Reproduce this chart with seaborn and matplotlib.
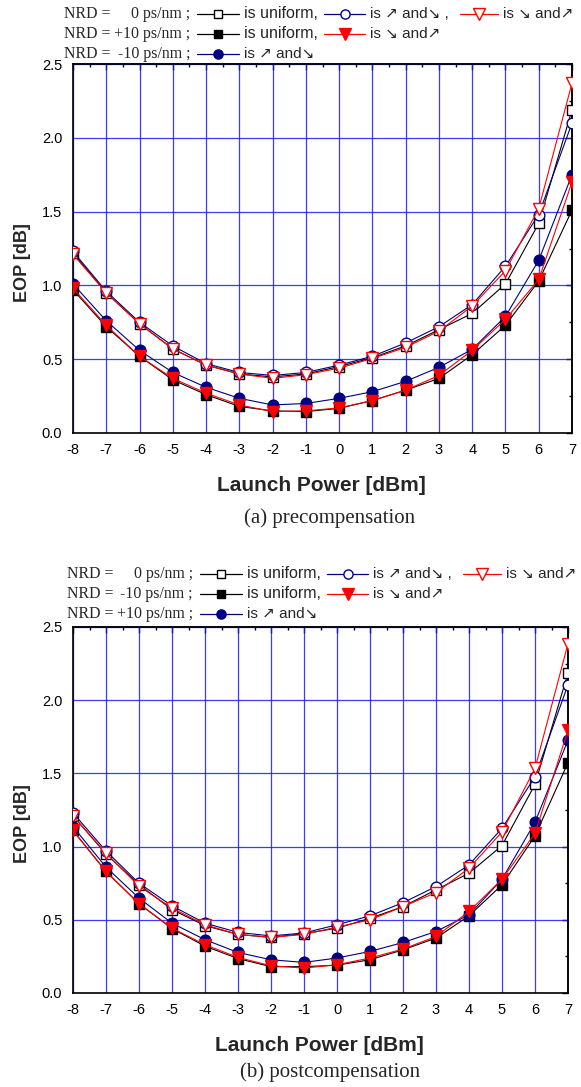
import matplotlib
matplotlib.use("Agg")
import matplotlib.pyplot as plt
import seaborn as sns
from matplotlib.lines import Line2D
from matplotlib.ticker import MultipleLocator, FormatStrFormatter

sns.set_style("white")
plt.rcParams['font.family'] = ['Liberation Sans', 'DejaVu Sans']
plt.rcParams['axes.unicode_minus'] = False

# ---------------- data ----------------
launch_power = [-8, -7, -6, -5, -4, -3, -2, -1, 0, 1, 2, 3, 4, 5, 6, 7]

# (a) precompensation
pre_nrd0_uniform = [1.22, 0.95, 0.74, 0.57, 0.46, 0.40, 0.38, 0.40, 0.45, 0.51, 0.59, 0.70, 0.81, 1.01, 1.42, 2.19]
pre_nrd0_updown = [1.23, 0.96, 0.75, 0.59, 0.47, 0.41, 0.39, 0.41, 0.46, 0.52, 0.61, 0.72, 0.87, 1.13, 1.48, 2.10]
pre_nrd0_downup = [1.21, 0.95, 0.74, 0.57, 0.46, 0.40, 0.37, 0.395, 0.44, 0.505, 0.58, 0.69, 0.86, 1.10, 1.52, 2.37]
pre_nrdp10_uniform = [0.97, 0.72, 0.52, 0.36, 0.26, 0.18, 0.15, 0.145, 0.167, 0.22, 0.29, 0.37, 0.53, 0.73, 1.03, 1.51]
pre_nrdp10_downup = [0.98, 0.73, 0.52, 0.37, 0.27, 0.19, 0.145, 0.15, 0.17, 0.22, 0.29, 0.39, 0.56, 0.77, 1.04, 1.70]
pre_nrdm10_updown = [1.01, 0.76, 0.56, 0.41, 0.31, 0.235, 0.19, 0.20, 0.235, 0.28, 0.35, 0.445, 0.567, 0.79, 1.17, 1.75]

# (b) postcompensation
post_nrd0_uniform = [1.21, 0.95, 0.74, 0.57, 0.46, 0.40, 0.38, 0.405, 0.443, 0.51, 0.59, 0.705, 0.818, 1.007, 1.425, 2.186]
post_nrd0_updown = [1.23, 0.97, 0.75, 0.595, 0.477, 0.414, 0.39, 0.41, 0.466, 0.527, 0.617, 0.727, 0.875, 1.125, 1.477, 2.106]
post_nrd0_downup = [1.21, 0.955, 0.73, 0.58, 0.466, 0.40, 0.38, 0.40, 0.45, 0.50, 0.59, 0.686, 0.852, 1.10, 1.534, 2.386]
post_nrdm10_uniform = [1.11, 0.83, 0.61, 0.44, 0.32, 0.235, 0.18, 0.18, 0.19, 0.227, 0.295, 0.375, 0.527, 0.739, 1.073, 1.573]
post_nrdm10_downup = [1.11, 0.83, 0.61, 0.443, 0.33, 0.243, 0.186, 0.17, 0.193, 0.239, 0.30, 0.386, 0.557, 0.777, 1.09, 1.795]
post_nrdp10_updown = [1.136, 0.86, 0.648, 0.477, 0.364, 0.277, 0.227, 0.209, 0.239, 0.284, 0.345, 0.42, 0.534, 0.777, 1.166, 1.727]

x_label = "Launch Power [dBm]"
y_label = "EOP [dB]"
captions = ["(a) precompensation", "(b) postcompensation"]

# ---------------- styles ----------------
NAVY = "#000080"
STY = {
    "sq_open": dict(color="black", marker="s", ms=6.8, face="white"),
    "ci_open": dict(color=NAVY, marker="o", ms=7.7, face="white"),
    "tr_open": dict(color="red", marker="v", ms=8.6, face="white"),
    "sq_fill": dict(color="black", marker="s", ms=6.8, face="black"),
    "ci_fill": dict(color=NAVY, marker="o", ms=7.7, face=NAVY),
    "tr_fill": dict(color="red", marker="v", ms=8.6, face="red"),
}
LEG_MS = {"s": 5.8, "o": 6.6, "v": 8.0}

W, H = 581, 1087
fig = plt.figure(figsize=(W / 100, H / 100), dpi=100)


def add_axes_px(l, t, r, b):
    return fig.add_axes([l / W, 1 - b / H, (r - l) / W, (b - t) / H])


def draw_panel(ax, series):
    for vals, key in series:
        s = STY[key]
        sns.lineplot(x=launch_power, y=vals, ax=ax, color=s["color"], marker=s["marker"],
                     markersize=s["ms"], markerfacecolor=s["face"], markeredgecolor=s["color"],
                     markeredgewidth=1.0, linewidth=0.8, legend=False, zorder=3)
    ax.set_xlim(-8, 7)
    ax.set_ylim(0, 2.5)
    ax.set_xlabel("")
    ax.set_ylabel("")
    ax.xaxis.set_major_locator(MultipleLocator(1))
    ax.xaxis.set_minor_locator(MultipleLocator(0.5))
    ax.yaxis.set_major_locator(MultipleLocator(0.5))
    ax.yaxis.set_minor_locator(MultipleLocator(0.25))
    ax.yaxis.set_major_formatter(FormatStrFormatter('%.1f'))
    ax.set_axisbelow(True)
    ax.grid(True, which='major', color='#1a1aff', linewidth=0.9, alpha=0.85)
    ax.tick_params(which='both', direction='out', top=False, right=False,
                   color='black', width=1.0, labelsize=10.5, labelcolor='black')
    ax.tick_params(which='major', length=4.3)
    ax.tick_params(which='minor', length=2.5)
    ax.tick_params(axis='x', pad=3.2)
    ax.tick_params(axis='y', pad=3.4)
    for sp in ax.spines.values():
        sp.set_visible(True)
        sp.set_color('black')
        sp.set_linewidth(1.2)
    secx = ax.secondary_xaxis('top')
    secx.xaxis.set_major_locator(MultipleLocator(1))
    secx.xaxis.set_minor_locator(MultipleLocator(0.5))
    secx.tick_params(which='both', direction='in', labeltop=False, color='black', width=1.0)
    secx.tick_params(which='major', length=4.3)
    secx.tick_params(which='minor', length=2.5)
    secx.spines['top'].set_linewidth(1.2)
    secy = ax.secondary_yaxis('right')
    secy.yaxis.set_major_locator(MultipleLocator(0.5))
    secy.yaxis.set_minor_locator(MultipleLocator(0.25))
    secy.tick_params(which='both', direction='in', labelright=False, color='black', width=1.0)
    secy.tick_params(which='major', length=4.3)
    secy.tick_params(which='minor', length=2.5)
    secy.spines['right'].set_linewidth(1.2)
    ax.text(0.497, -0.143, x_label, transform=ax.transAxes, ha='center', va='center',
            fontsize=15, fontweight='bold')
    ax.text(-0.102, 0.463, y_label, transform=ax.transAxes, ha='center', va='center',
            rotation=90, fontsize=13, fontweight='bold')


def ftext(x, y, s, serif=False, size=None, **kw):
    fam = ['Liberation Serif', 'DejaVu Serif'] if serif else ['Liberation Sans', 'DejaVu Sans']
    if size is None:
        size = 11.4 if serif else 11.5
    fig.text(x / W, 1 - y / H, s, va='center', family=fam, fontsize=size, **kw)


def handle(x0, x1, y, key):
    s = STY[key]
    yy = 1 - y / H
    fig.add_artist(Line2D([x0 / W, x1 / W], [yy, yy], color=s["color"], lw=0.9,
                          transform=fig.transFigure))
    xm = (x0 + x1) / 2
    fig.add_artist(Line2D([xm / W], [yy], color=s["color"], marker=s["marker"],
                          ms=LEG_MS[s["marker"]], mfc=s["face"], mec=s["color"], mew=1.0,
                          transform=fig.transFigure))


UPDOWN = "is \u2197 and\u2198"
DOWNUP = "is \u2198 and\u2197"
ARROW_SIZE = 11.0


def legend_block(y0, dx, rows):
    # row 1
    y = y0
    ftext(64 + dx, y, "NRD =", serif=True)
    ftext(190 + dx, y, rows[0][0], serif=True, ha='right')
    handle(197 + dx, 239 + dx, y, rows[0][1])
    ftext(244 + dx, y, "is uniform,")
    handle(324 + dx, 365 + dx, y, rows[0][2])
    ftext(370 + dx, y, UPDOWN + " ,", size=ARROW_SIZE)
    handle(460 + dx, 498 + dx, y, rows[0][3])
    ftext(503 + dx, y, DOWNUP, size=ARROW_SIZE)
    # row 2
    y = y0 + 20
    ftext(64 + dx, y, "NRD =", serif=True)
    ftext(190 + dx, y, rows[1][0], serif=True, ha='right')
    handle(197 + dx, 239 + dx, y, rows[1][1])
    ftext(244 + dx, y, "is uniform,")
    handle(324 + dx, 365 + dx, y, rows[1][2])
    ftext(370 + dx, y, DOWNUP, size=ARROW_SIZE)
    # row 3
    y = y0 + 40
    ftext(64 + dx, y, "NRD =", serif=True)
    ftext(190 + dx, y, rows[2][0], serif=True, ha='right')
    handle(197 + dx, 239 + dx, y, rows[2][1])
    ftext(244 + dx, y, UPDOWN, size=ARROW_SIZE)


# ---------------- panel (a) ----------------
ax1 = add_axes_px(73, 64, 572, 433)
draw_panel(ax1, [
    (pre_nrd0_uniform, "sq_open"), (pre_nrd0_updown, "ci_open"), (pre_nrd0_downup, "tr_open"),
    (pre_nrdp10_uniform, "sq_fill"), (pre_nrdm10_updown, "ci_fill"), (pre_nrdp10_downup, "tr_fill"),
])
legend_block(14, 0, [
    ("0 ps/nm ;", "sq_open", "ci_open", "tr_open"),
    ("+10 ps/nm ;", "sq_fill", "tr_fill"),
    ("-10 ps/nm ;", "ci_fill"),
])
fig.text(330 / W, 1 - 518 / H, captions[0], ha='center', va='center',
         family=['Liberation Serif', 'DejaVu Serif'], fontsize=15)

# ---------------- panel (b) ----------------
ax2 = add_axes_px(73, 627, 568, 993)
draw_panel(ax2, [
    (post_nrd0_uniform, "sq_open"), (post_nrd0_updown, "ci_open"), (post_nrd0_downup, "tr_open"),
    (post_nrdm10_uniform, "sq_fill"), (post_nrdp10_updown, "ci_fill"), (post_nrdm10_downup, "tr_fill"),
])
legend_block(574, 3, [
    ("0 ps/nm ;", "sq_open", "ci_open", "tr_open"),
    ("-10 ps/nm ;", "sq_fill", "tr_fill"),
    ("+10 ps/nm ;", "ci_fill"),
])
fig.text(330 / W, 1 - 1072 / H, captions[1], ha='center', va='center',
         family=['Liberation Serif', 'DejaVu Serif'], fontsize=15)

fig.savefig("out.png", dpi=100)
